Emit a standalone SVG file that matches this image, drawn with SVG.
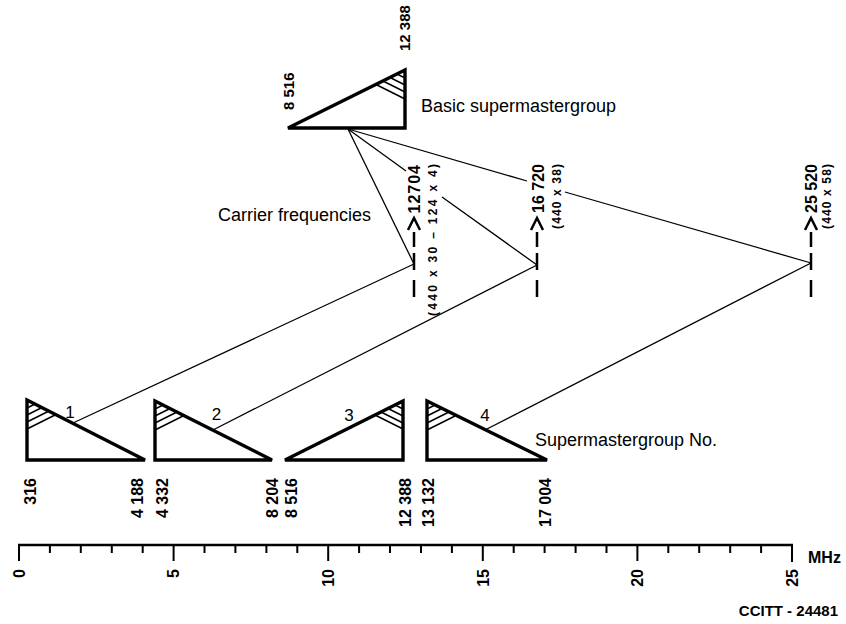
<svg xmlns="http://www.w3.org/2000/svg" width="846" height="624" viewBox="0 0 846 624">
<style>
.tri{fill:none;stroke:#000;stroke-width:3.4}
.hatch{fill:none;stroke:#000;stroke-width:1.5}
.con{fill:none;stroke:#000;stroke-width:1.3}
.car{fill:none;stroke:#000;stroke-width:2.5}
.ax{fill:none;stroke:#000;stroke-width:2.5}
.tick{fill:none;stroke:#000;stroke-width:2}
.lbl{font-family:"Liberation Sans",Arial,sans-serif;font-size:18px;fill:#000}
.idx{font-family:"Liberation Sans",Arial,sans-serif;font-size:17px;fill:#000;text-anchor:middle}
.num{font-family:"Liberation Sans",Arial,sans-serif;font-size:16px;font-weight:bold;fill:#000}
.cnum{font-family:"Liberation Sans",Arial,sans-serif;font-size:16px;font-weight:bold;fill:#000;text-anchor:end}
.par{font-family:"Liberation Sans",Arial,sans-serif;font-size:12px;font-weight:bold;fill:#000;text-anchor:end}
.tl{font-family:"Liberation Sans",Arial,sans-serif;font-size:16px;font-weight:bold;fill:#000;text-anchor:end}
.end{text-anchor:end}
</style>

<g id="connectors">
<path class="con" d="M348,129 L414,264"/>
<path class="con" d="M348,129 L406,171 M442,197 L537,265"/>
<path class="con" d="M348,129 L527,181 M565,192 L811,263"/>
<path class="con" d="M73,423 L414,264"/>
<path class="con" d="M213,430 L537,265"/>
<path class="con" d="M485,430 L811,263"/>
</g>

<g id="basic-supermastergroup">
<path class="tri" d="M288,128 L405,128 L405,70 Z"/>
<path class="hatch" d="M397,74 L404,77.5 M390,77.5 L404,84.5 M383,81 L404,91.5 M376,84.5 L404,98.5"/>
<text class="num" style="font-size:15px" transform="translate(293.5,110) rotate(-90)">8 516</text>
<text class="num" style="font-size:15px" transform="translate(409.5,51) rotate(-90)">12 388</text>
<text class="lbl" x="421" y="112">Basic supermastergroup</text>
</g>

<g id="carrier-12704">
<path class="car" d="M408,230 L414,218 L420,230 M414,232 V247 M414,253 V270 M414,280 V297"/>
<text class="cnum" letter-spacing="1" transform="translate(420,164) rotate(-90)">12704</text>
<text class="par" textLength="152" lengthAdjust="spacing" transform="translate(437,164) rotate(-90)">(440 x 30 – 124 x 4)</text>
</g>

<g id="carrier-16720">
<path class="car" d="M531,230 L537,218 L543,230 M537,232 V247 M537,253 V270 M537,280 V297"/>
<text class="cnum" transform="translate(544,164) rotate(-90)">16 720</text>
<text class="par" textLength="65" lengthAdjust="spacing" transform="translate(561,164) rotate(-90)">(440 x 38)</text>
</g>

<g id="carrier-25520">
<path class="car" d="M805,230 L811,218 L817,230 M811,232 V247 M811,253 V270 M811,280 V297"/>
<text class="cnum" transform="translate(817,164) rotate(-90)">25 520</text>
<text class="par" textLength="65" lengthAdjust="spacing" transform="translate(831,164) rotate(-90)">(440 x 58)</text>
</g>

<text id="carrier-label" class="lbl" x="218" y="221">Carrier frequencies</text>

<g id="smg1">
<path class="tri" d="M27,400 L27,460 L145,460 Z"/>
<path class="hatch" d="M27,408 L35,404 M27,415 L42,407.5 M27,422 L49,411 M27,429 L55,415"/>
<text class="idx" x="70" y="418">1</text>
<text class="num end" transform="translate(35.8,478) rotate(-90)">316</text>
<text class="num end" transform="translate(142.8,478) rotate(-90)">4 188</text>
</g>

<g id="smg2">
<path class="tri" d="M155,401 L155,460 L272,460 Z"/>
<path class="hatch" d="M155,409 L163,405 M155,416 L170,408.5 M155,423 L177,412 M155,430 L183,416"/>
<text class="idx" x="216.5" y="420">2</text>
<text class="num end" transform="translate(167.8,478) rotate(-90)">4 332</text>
<text class="num end" transform="translate(277.8,478) rotate(-90)">8 204</text>
</g>

<g id="smg3">
<path class="tri" d="M285,460 L403,460 L403,401 Z"/>
<path class="hatch" d="M395,405 L403,409 M388,408.5 L403,416 M381,412 L403,423 M375,415 L403,429"/>
<text class="idx" x="349" y="421">3</text>
<text class="num end" transform="translate(296.8,478) rotate(-90)">8 516</text>
<text class="num end" transform="translate(410.8,478) rotate(-90)">12 388</text>
</g>

<g id="smg4">
<path class="tri" d="M427,401 L427,460 L547,460 Z"/>
<path class="hatch" d="M427,409 L435,405 M427,416 L442,408.5 M427,423 L449,412 M427,430 L455,416"/>
<text class="idx" x="485" y="421">4</text>
<text class="num end" transform="translate(433.8,478) rotate(-90)">13 132</text>
<text class="num end" transform="translate(550.8,478) rotate(-90)">17 004</text>
</g>

<text id="smg-label" class="lbl" x="535" y="446">Supermastergroup No.</text>

<g id="axis">
<line class="ax" x1="18" y1="545" x2="793" y2="545"/>
<path class="tick" d="M19,545 V561 M49.9,545 V553 M80.8,545 V553 M111.8,545 V553 M142.7,545 V553 M173.6,545 V561 M204.5,545 V553 M235.4,545 V553 M266.4,545 V553 M297.3,545 V553 M328.2,545 V561 M359.1,545 V553 M390,545 V553 M421,545 V553 M451.9,545 V553 M482.8,545 V561 M513.7,545 V553 M544.6,545 V553 M575.6,545 V553 M606.5,545 V553 M637.4,545 V561 M668.3,545 V553 M699.2,545 V553 M730.2,545 V553 M761.1,545 V553 M792,545 V562"/>
<text class="tl" transform="translate(24.8,569) rotate(-90)">0</text>
<text class="tl" transform="translate(179.4,569) rotate(-90)">5</text>
<text class="tl" transform="translate(334,569) rotate(-90)">10</text>
<text class="tl" transform="translate(488.6,569) rotate(-90)">15</text>
<text class="tl" transform="translate(643.2,569) rotate(-90)">20</text>
<text class="tl" transform="translate(797.8,569) rotate(-90)">25</text>
<text class="tl" x="808" y="563" style="text-anchor:start">MHz</text>
</g>

<text id="ref" class="tl" x="838" y="616" style="font-size:15px">CCITT - 24481</text>
</svg>
